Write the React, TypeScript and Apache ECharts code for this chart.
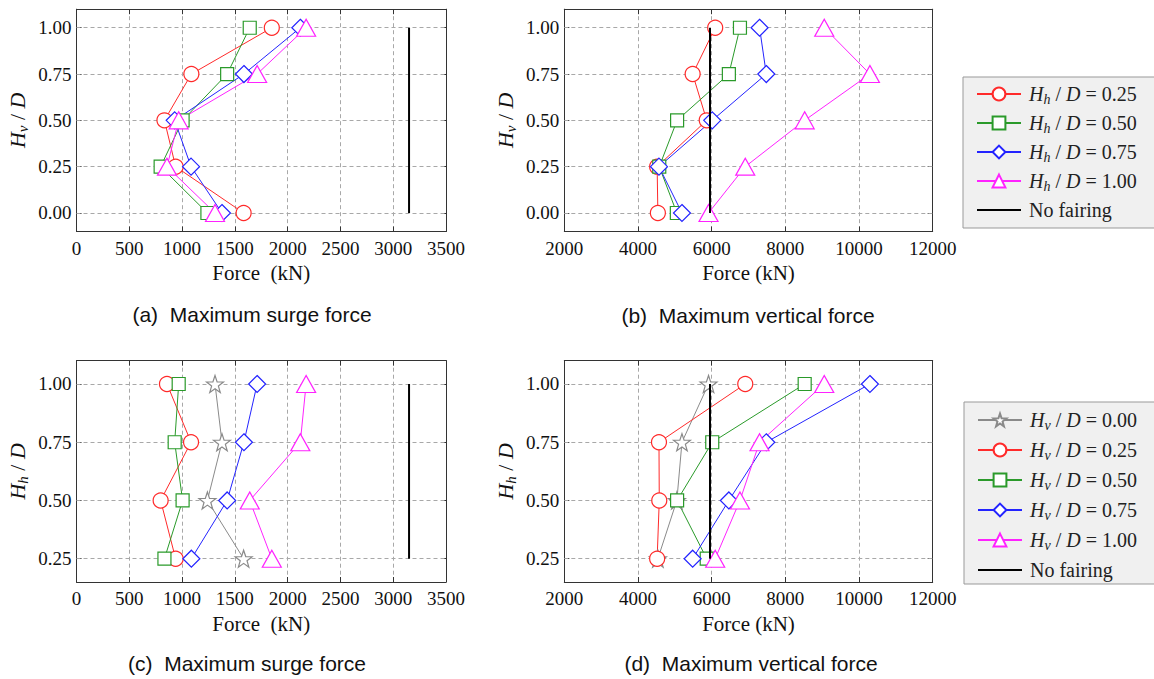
import React, { useEffect, useRef } from 'react';
import * as echarts from 'echarts';

// ---------- data ----------
const hvLevels = [0, 0.25, 0.5, 0.75, 1.0];
const hhLevels = [0.25, 0.5, 0.75, 1.0];
const hhNames = ['Hh / D = 0.25', 'Hh / D = 0.50', 'Hh / D = 0.75', 'Hh / D = 1.00'];
const hvNames = ['Hv / D = 0.00', 'Hv / D = 0.25', 'Hv / D = 0.50', 'Hv / D = 0.75', 'Hv / D = 1.00'];

// maximum surge force (kN), one array per Hh/D, indexed by Hv/D level
const surgeHh025 = [1583, 939, 833, 1088, 1850];
const surgeHh050 = [1240, 797, 1005, 1427, 1641];
const surgeHh075 = [1378, 1085, 930, 1586, 2120];
const surgeHh100 = [1312, 857, 968, 1711, 2175];

// maximum vertical force (kN), one array per Hh/D, indexed by Hv/D level
const verticalHh025 = [4540, 4520, 5866, 5484, 6096];
const verticalHh050 = [5055, 4578, 5062, 6467, 6768];
const verticalHh075 = [5194, 4570, 6016, 7483, 7300];
const verticalHh100 = [5915, 6912, 8525, 10296, 9056];

const noFairingSurge = 3150;
const noFairingVertical = 5955;

const yTicksTop = [0, 0.25, 0.5, 0.75, 1.0];
const yTicksBottom = [0.25, 0.5, 0.75, 1.0];

// ---------- styles ----------
const SERIF = '"Liberation Serif", "Times New Roman", serif';
const SANS = '"Liberation Sans", Arial, sans-serif';
const STAR = 'path://M50,2 L61.8,35.8 L97.6,36.6 L69,58.2 L79.4,92.4 L50,72 L20.6,92.4 L31,58.2 L2.4,36.6 L38.2,35.8 Z';
const LINE_ICON = 'path://M0,0 L44,0 L44,2 L0,2 Z';
const hhColors = ['#ff2a2a', '#2a9a2a', '#2323ff', '#ff22ff'];
const hhSymbols = ['circle', 'rect', 'diamond', 'triangle'];
const hhSizes: any[] = [15, 13, 17, [19, 17]];
const hvColors = ['#8a8a8a', ...hhColors];
const hvSymbols = [STAR, ...hhSymbols];
const hvSizes: any[] = [17, ...hhSizes];

const grids = [
  { left: 76.5, top: 9.2, width: 369.5, height: 222.3 },
  { left: 564.3, top: 9.2, width: 368.4, height: 222.3 },
  { left: 76.5, top: 360.7, width: 369.5, height: 221.3 },
  { left: 564.3, top: 360.7, width: 368.4, height: 221.3 },
];

const nameRich = {
  i: { fontFamily: SERIF, fontStyle: 'italic', fontSize: 22, lineHeight: 26, color: '#111', verticalAlign: 'middle' },
  s: { fontFamily: SERIF, fontStyle: 'italic', fontSize: 15, lineHeight: 15, color: '#111', verticalAlign: 'bottom' },
  n: { fontFamily: SERIF, fontSize: 22, lineHeight: 26, color: '#111', verticalAlign: 'middle' },
};

const legendRich = {
  i: { fontFamily: SERIF, fontStyle: 'italic', fontSize: 20, lineHeight: 24, color: '#222' },
  s: { fontFamily: SERIF, fontStyle: 'italic', fontSize: 14, lineHeight: 14, color: '#222', verticalAlign: 'bottom' },
  n: { fontFamily: SERIF, fontSize: 20, lineHeight: 24, color: '#222' },
  p: { fontFamily: SERIF, fontSize: 20, lineHeight: 24, color: '#222', padding: [0, 0, 0, 3] },
};

function legendFormatter(name: string) {
  if (name === 'No fairing') return '{p|No fairing}';
  const sub = name[1];
  const val = name.split('= ')[1];
  return `{p|}{i|H}{s|${sub}}{n| / }{i|D}{n| = ${val}}`;
}

function xAxes(p: number, min: number, max: number, interval: number, name: string) {
  const line = { show: true, onZero: false, lineStyle: { color: '#333', width: 1 } };
  const tick = { show: true, inside: true, length: 5, lineStyle: { color: '#333' } };
  return [
    {
      type: 'value', gridIndex: p, position: 'bottom', min, max, interval,
      axisLine: line, axisTick: tick,
      axisLabel: { fontFamily: SERIF, fontSize: 19, color: '#111', margin: 7, formatter: (v: number) => String(v) },
      splitLine: { show: true, lineStyle: { type: [4, 3], color: '#a8a8a8', width: 1 } },
      name, nameLocation: 'middle', nameGap: 31,
      nameTextStyle: { fontFamily: SERIF, fontSize: 21, color: '#111' },
    },
    {
      type: 'value', gridIndex: p, position: 'top', min, max, interval,
      axisLine: line, axisTick: tick, axisLabel: { show: false }, splitLine: { show: false },
    },
  ];
}

function yAxes(p: number, min: number, max: number, ticks: number[], sub: string) {
  const line = { show: true, onZero: false, lineStyle: { color: '#333', width: 1 } };
  return [
    {
      type: 'value', gridIndex: p, position: 'left', min, max,
      axisLine: line,
      axisTick: { show: true, inside: true, length: 5, customValues: ticks, lineStyle: { color: '#333' } },
      axisLabel: {
        customValues: ticks, formatter: (v: number) => v.toFixed(2),
        fontFamily: SERIF, fontSize: 19, color: '#111', margin: 5,
      },
      splitLine: { show: false },
      name: `{i|H}{s|${sub}}{n| / }{i|D}`, nameLocation: 'middle', nameGap: 46, nameRotate: 90,
      nameTextStyle: { rich: nameRich },
    },
    {
      type: 'value', gridIndex: p, position: 'right', min, max,
      axisLine: line,
      axisTick: { show: true, inside: true, length: 5, customValues: ticks, lineStyle: { color: '#333' } },
      axisLabel: { show: false }, splitLine: { show: false },
    },
  ];
}

function markerSeries(p: number, name: string, color: string, symbol: string, size: any, xs: number[], ys: number[], gridTicks?: number[]) {
  const s: any = {
    type: 'line', name, xAxisIndex: 2 * p, yAxisIndex: 2 * p,
    data: xs.map((x, i) => [x, ys[i]]),
    symbol, symbolSize: size, showSymbol: true, showAllSymbol: true,
    lineStyle: { color, width: 1 },
    itemStyle: { color: '#ffffff', borderColor: color, borderWidth: 1.2 },
    emphasis: { disabled: true },
    z: 2,
  };
  if (gridTicks) {
    s.markLine = {
      silent: true, z: 1, symbol: ['none', 'none'], label: { show: false },
      lineStyle: { type: [4, 3], color: '#a8a8a8', width: 1 },
      emphasis: { disabled: true },
      data: gridTicks.map((v) => ({ yAxis: v })),
    };
  }
  return s;
}

function noFairingSeries(p: number, x: number, y0: number, y1: number) {
  return {
    type: 'line', name: 'No fairing', xAxisIndex: 2 * p, yAxisIndex: 2 * p,
    data: [[x, y0], [x, y1]], symbol: 'none',
    lineStyle: { color: '#000', width: 2 }, itemStyle: { color: '#000' },
    emphasis: { disabled: true }, z: 3,
  };
}

const surgeByHh = [surgeHh025, surgeHh050, surgeHh075, surgeHh100];
const verticalByHh = [verticalHh025, verticalHh050, verticalHh075, verticalHh100];

export default function App() {
  const ref = useRef<HTMLDivElement>(null);
  useEffect(() => {
    if (!ref.current) return;
    const chart = echarts.init(ref.current, null, { renderer: 'svg' });
    const series: any[] = [];
    // (a) surge vs Hv, per Hh
    surgeByHh.forEach((arr, k) => series.push(markerSeries(0, hhNames[k], hhColors[k], hhSymbols[k], hhSizes[k], arr, hvLevels, k === 0 ? yTicksTop : undefined)));
    series.push(noFairingSeries(0, noFairingSurge, 0, 1));
    // (b) vertical vs Hv, per Hh
    verticalByHh.forEach((arr, k) => series.push(markerSeries(1, hhNames[k], hhColors[k], hhSymbols[k], hhSizes[k], arr, hvLevels, k === 0 ? yTicksTop : undefined)));
    series.push(noFairingSeries(1, noFairingVertical, 0, 1));
    // (c) surge vs Hh, per Hv
    hvLevels.forEach((_, j) => series.push(markerSeries(2, hvNames[j], hvColors[j], hvSymbols[j], hvSizes[j], surgeByHh.map((a) => a[j]), hhLevels, j === 0 ? yTicksBottom : undefined)));
    series.push(noFairingSeries(2, noFairingSurge, 0.25, 1));
    // (d) vertical vs Hh, per Hv
    hvLevels.forEach((_, j) => series.push(markerSeries(3, hvNames[j], hvColors[j], hvSymbols[j], hvSizes[j], verticalByHh.map((a) => a[j]), hhLevels, j === 0 ? yTicksBottom : undefined)));
    series.push(noFairingSeries(3, noFairingVertical, 0.25, 1));

    const captions = [
      { x: 252, y: 314, text: '(a)  Maximum surge force' },
      { x: 748, y: 315, text: '(b)  Maximum vertical force' },
      { x: 247, y: 663, text: '(c)  Maximum surge force' },
      { x: 751, y: 663, text: '(d)  Maximum vertical force' },
    ];

    const legendBase = {
      orient: 'vertical', itemWidth: 44, itemHeight: 16,
      backgroundColor: '#f0f0f0', borderColor: '#999', borderWidth: 1,
      selectedMode: false, formatter: legendFormatter,
      textStyle: { rich: legendRich, fontFamily: SERIF, fontSize: 20, color: '#222' },
    };
    const noFairingItem = { name: 'No fairing', icon: LINE_ICON, itemStyle: { color: '#000' } };

    chart.setOption({
      animation: false,
      backgroundColor: '#ffffff',
      grid: grids.map((g) => ({ ...g, show: false })),
      xAxis: [
        ...xAxes(0, 0, 3500, 500, 'Force  (kN)'),
        ...xAxes(1, 2000, 12000, 2000, 'Force (kN)'),
        ...xAxes(2, 0, 3500, 500, 'Force  (kN)'),
        ...xAxes(3, 2000, 12000, 2000, 'Force (kN)'),
      ],
      yAxis: [
        ...yAxes(0, -0.1, 1.1, yTicksTop, 'v'),
        ...yAxes(1, -0.1, 1.1, yTicksTop, 'v'),
        ...yAxes(2, 0.15, 1.1, yTicksBottom, 'h'),
        ...yAxes(3, 0.15, 1.1, yTicksBottom, 'h'),
      ],
      legend: [
        { ...legendBase, left: 963, top: 77, itemGap: 7, padding: [7, 60, 8, 13], data: [...hhNames, noFairingItem] },
        { ...legendBase, left: 964, top: 402, itemGap: 8, padding: [8, 60, 4, 13], data: [...hvNames, noFairingItem] },
      ],
      series,
      graphic: captions.map((c) => ({
        type: 'text', x: c.x, y: c.y, silent: true,
        style: {
          text: c.text, fontFamily: SANS, fontSize: 21, fill: '#111',
          textAlign: 'center', textVerticalAlign: 'middle', verticalAlign: 'middle',
        },
      })),
    });
    return () => chart.dispose();
  }, []);
  return <div ref={ref} style={{ position: 'fixed', left: 0, top: 0, width: 1154, height: 679, background: '#fff' }} />;
}
